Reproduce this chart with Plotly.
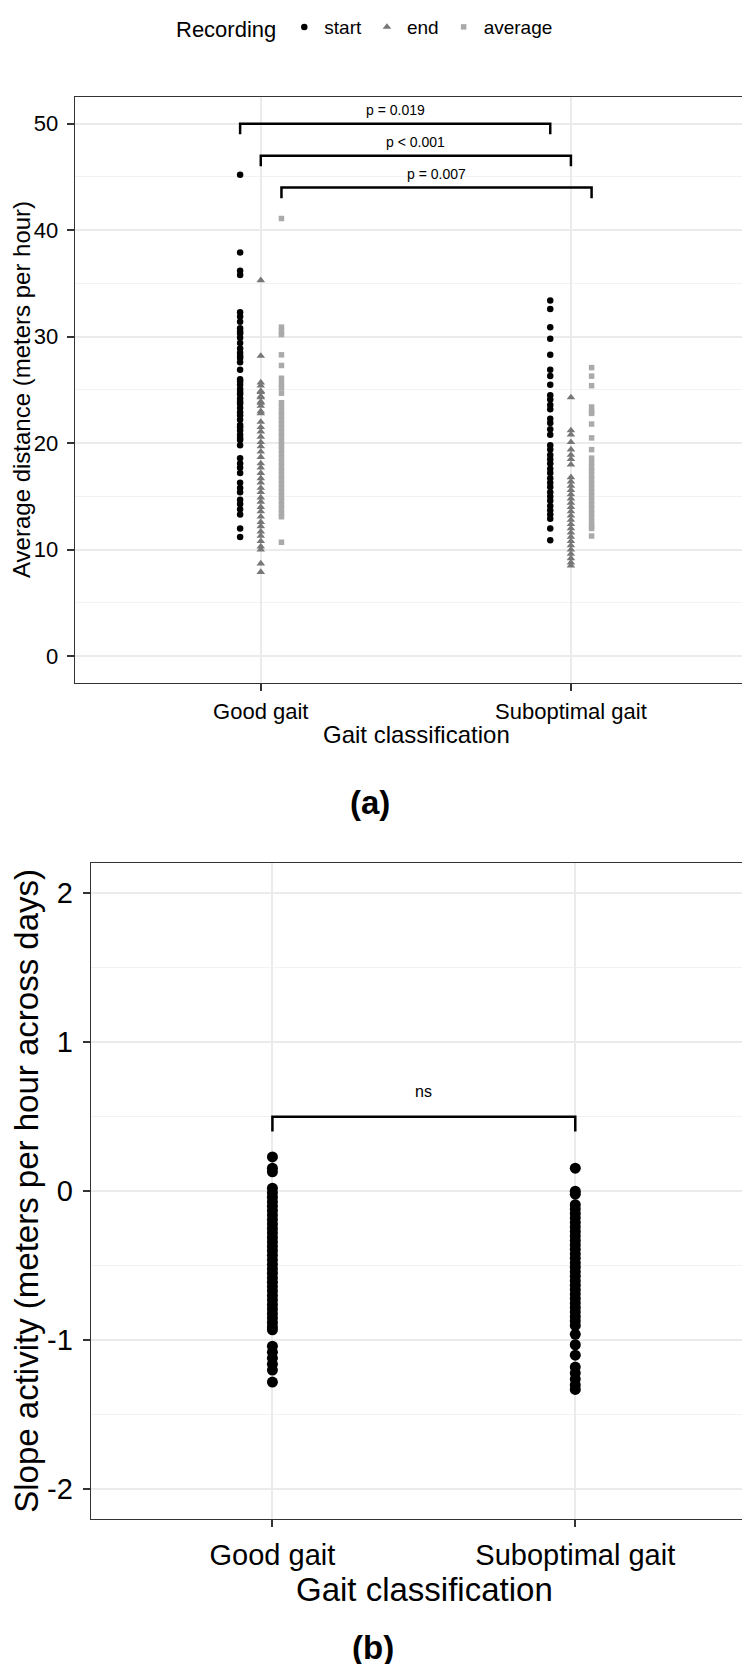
import plotly.graph_objects as go

# ---------------- data ----------------
categories = ["Good gait", "Suboptimal gait"]
recordings = ["start", "end", "average"]

good_start = [45.2, 37.9, 36.2, 35.8, 32.3, 31.9, 31.4, 30.8, 30.5, 30.3, 29.9, 29.4, 28.9,
              28.5, 28.2, 28.0, 27.6, 26.9, 26.0, 25.8, 25.5, 25.1, 24.8, 24.6, 24.2, 23.9,
              23.7, 23.3, 22.9, 22.6, 22.2, 21.7, 21.5, 21.2, 20.8, 20.5, 20.3, 19.8, 18.6,
              18.1, 17.7, 17.2, 16.3, 15.8, 15.4, 14.7, 14.3, 13.8, 13.3, 12.0, 11.2]
good_end = [35.3, 28.2, 25.7, 25.4, 24.9, 24.8, 24.4, 24.3, 23.9, 23.8, 23.5, 23.0, 22.8,
            22.0, 21.5, 21.1, 20.6, 20.1, 19.7, 19.2, 18.7, 18.1, 17.7, 17.2, 16.7, 16.3,
            15.8, 15.4, 14.9, 14.5, 14.0, 13.6, 13.1, 12.6, 12.2, 11.7, 11.3, 10.8, 10.3,
            10.0, 8.7, 7.9]
good_avg = [41.1, 30.9, 30.5, 30.2, 28.3, 27.3, 26.1, 25.6, 25.2, 24.7, 23.8, 23.4, 23.0,
            22.6, 22.2, 21.8, 21.4, 21.0, 20.6, 20.2, 19.8, 19.4, 19.0, 18.6, 18.2, 17.8,
            17.4, 17.0, 16.6, 16.2, 15.8, 15.4, 15.0, 14.6, 14.2, 13.8, 13.4, 13.1, 10.7]

sub_start = [33.4, 32.6, 30.9, 29.8, 28.3, 26.9, 26.3, 25.5, 24.5, 24.1, 23.6, 23.2, 22.3,
             21.9, 21.3, 20.8, 19.8, 19.4, 18.9, 18.5, 18.1, 17.6, 17.2, 16.7, 16.3, 15.9,
             15.4, 15.0, 14.6, 14.1, 13.7, 13.3, 12.9, 12.0, 10.9]
sub_end = [24.3, 21.2, 20.8, 20.1, 19.4, 18.9, 18.5, 18.0, 16.8, 16.4, 16.0, 15.6, 15.2,
           14.8, 14.4, 14.0, 13.6, 13.2, 12.8, 12.4, 12.0, 11.6, 11.2, 10.8, 10.4, 10.0,
           9.6, 9.2, 8.8, 8.5]
sub_avg = [27.1, 26.3, 25.4, 23.4, 23.0, 22.8, 21.8, 20.5, 19.4, 18.6, 18.2, 17.8, 17.4,
           17.0, 16.6, 16.2, 15.8, 15.4, 15.0, 14.6, 14.2, 13.8, 13.4, 13.0, 12.6, 12.2,
           12.0, 11.3]

slope_good = [0.23, 0.155, 0.13, 0.02, -0.01, -0.04, -0.07, -0.10, -0.13, -0.16, -0.19,
              -0.22, -0.25, -0.28, -0.31, -0.34, -0.37, -0.40, -0.43, -0.46, -0.49, -0.52,
              -0.55, -0.58, -0.61, -0.64, -0.67, -0.70, -0.73, -0.76, -0.79, -0.82, -0.85,
              -0.88, -0.91, -0.93, -1.04, -1.08, -1.12, -1.16, -1.20, -1.28]
slope_sub = [0.155, 0.00, -0.02, -0.09, -0.12, -0.15, -0.18, -0.21, -0.24, -0.27, -0.30,
             -0.33, -0.36, -0.39, -0.42, -0.45, -0.48, -0.51, -0.54, -0.57, -0.60, -0.63,
             -0.66, -0.69, -0.72, -0.75, -0.78, -0.81, -0.84, -0.87, -0.90, -0.96, -1.03,
             -1.10, -1.18, -1.22, -1.26, -1.30, -1.33]

# significance brackets (panel a): (left group, left recording, right group, right recording, y, label)
brackets_a = [
    (0, "start", 1, "start", 50.0, "p = 0.019"),
    (0, "end", 1, "end", 47.0, "p < 0.001"),
    (0, "average", 1, "average", 44.0, "p = 0.007"),
]
brackets_b = [(0, 1, 0.5, "ns")]

# ---------------- styling ----------------
FONT = "Liberation Sans"
rec_style = {
    "start": dict(symbol="circle", color="#000000", size=6.5),
    "end": dict(symbol="triangle-up", color="#777777", size=7.5),
    "average": dict(symbol="square", color="#aaaaaa", size=5.5),
}
dodge = {"start": -0.2 / 3, "end": 0.0, "average": 0.2 / 3}
tip_a = 1.0
tip_b = 0.1

values_a = {
    ("start", 0): good_start, ("end", 0): good_end, ("average", 0): good_avg,
    ("start", 1): sub_start, ("end", 1): sub_end, ("average", 1): sub_avg,
}

fig = go.Figure()

for rec in recordings:
    xs, ys = [], []
    for gi, _ in enumerate(categories):
        vals = values_a[(rec, gi)]
        xs += [gi + 1 + dodge[rec]] * len(vals)
        ys += vals
    st = rec_style[rec]
    fig.add_trace(go.Scatter(
        x=xs, y=ys, mode="markers", name=rec, xaxis="x", yaxis="y",
        marker=dict(symbol=st["symbol"], color=st["color"], size=st["size"], line=dict(width=0)),
        showlegend=True,
    ))

for (g1, r1, g2, r2, yv, lab) in brackets_a:
    x1 = g1 + 1 + dodge[r1]
    x2 = g2 + 1 + dodge[r2]
    fig.add_trace(go.Scatter(
        x=[x1, x1, x2, x2], y=[yv - tip_a, yv, yv, yv - tip_a], mode="lines",
        line=dict(color="black", width=2.5), xaxis="x", yaxis="y", showlegend=False,
        hoverinfo="skip"))
    fig.add_annotation(x=(x1 + x2) / 2, y=yv + 1.3, xref="x", yref="y", text=lab,
                       showarrow=False, font=dict(family=FONT, size=14, color="black"),
                       yanchor="middle")

# panel b
xs_b = [1] * len(slope_good) + [2] * len(slope_sub)
fig.add_trace(go.Scatter(
    x=xs_b, y=slope_good + slope_sub, mode="markers", xaxis="x2", yaxis="y2",
    marker=dict(symbol="circle", color="black", size=11, line=dict(width=0)),
    showlegend=False))
for (g1, g2, yv, lab) in brackets_b:
    fig.add_trace(go.Scatter(
        x=[g1 + 1, g1 + 1, g2 + 1, g2 + 1], y=[yv - tip_b, yv, yv, yv - tip_b], mode="lines",
        line=dict(color="black", width=2.5), xaxis="x2", yaxis="y2", showlegend=False,
        hoverinfo="skip"))
    fig.add_annotation(x=(g1 + g2) / 2 + 1, y=yv + 0.17, xref="x2", yref="y2", text=lab,
                       showarrow=False, font=dict(family=FONT, size=16, color="black"),
                       yanchor="middle")

W, H = 750, 1664
def fx(px):
    return px / W
def fy(py):
    return 1 - py / H

grid_major = "#ebebeb"
axis_common = dict(showline=True, mirror=True, linecolor="#333333", linewidth=1.2,
                   ticks="outside", tickcolor="#333333", tickwidth=1.5, ticklen=7,
                   zeroline=False, automargin=False, gridcolor=grid_major, gridwidth=1.6)

fig.update_layout(
    width=W, height=H,
    margin=dict(l=0, r=0, t=0, b=0),
    paper_bgcolor="white", plot_bgcolor="white",
    font=dict(family=FONT, color="black"),
    showlegend=True,
    xaxis=dict(domain=[fx(66.7), fx(749)], anchor="y", range=[0.4, 2.6],
               tickvals=[1, 2], ticktext=categories,
               tickfont=dict(family=FONT, size=22, color="black"), ticklabelstandoff=2,
               **axis_common),
    yaxis=dict(domain=[fy(661), fy(67)], anchor="x", range=[-2.5, 52.5],
               tickvals=[0, 10, 20, 30, 40, 50],
               tickfont=dict(family=FONT, size=22, color="black"), ticklabelstandoff=4,
               minor=dict(tickvals=[5, 15, 25, 35, 45], showgrid=True, gridcolor="#f2f2f2",
                          gridwidth=1, ticks=""),
               **axis_common),
    xaxis2=dict(domain=[fx(82.7), fx(749)], anchor="y2", range=[0.4, 2.6],
                tickvals=[1, 2], ticktext=categories,
                tickfont=dict(family=FONT, size=29, color="black"), ticklabelstandoff=3,
                **axis_common),
    yaxis2=dict(domain=[fy(1509), fy(844)], anchor="x2", range=[-2.2, 2.2],
                tickvals=[-2, -1, 0, 1, 2], ticktext=["-2", "-1", "0", "1", "2"],
                tickfont=dict(family=FONT, size=29, color="black"), ticklabelstandoff=4,
                minor=dict(tickvals=[-1.5, -0.5, 0.5, 1.5], showgrid=True, gridcolor="#f2f2f2",
                           gridwidth=1, ticks=""),
                **axis_common),
    legend=dict(orientation="h", x=fx(358), xanchor="center", y=1.014, yanchor="top",
                title=dict(text="Recording", side="left", font=dict(family=FONT, size=22)),
                font=dict(family=FONT, size=19, color="black"),
                bgcolor="rgba(0,0,0,0)", entrywidth=0,
                itemsizing="trace"),
)

annotations = [
    dict(text="Average distance (meters per hour)", x=fx(14), y=fy(364), textangle=-90,
         font=dict(family=FONT, size=24)),
    dict(text="Gait classification", x=fx(408), y=fy(713), font=dict(family=FONT, size=24)),
    dict(text="<b>(a)</b>", x=fx(362), y=fy(782), font=dict(family=FONT, size=33)),
    dict(text="Slope activity (meters per hour across days)", x=fx(19), y=fy(1176),
         textangle=-90, font=dict(family=FONT, size=33)),
    dict(text="Gait classification", x=fx(416), y=fy(1580), font=dict(family=FONT, size=33)),
    dict(text="<b>(b)</b>", x=fx(365), y=fy(1639), font=dict(family=FONT, size=33)),
]
for a in annotations:
    fig.add_annotation(xref="paper", yref="paper", showarrow=False, xanchor="center",
                       yanchor="middle", **a)

fig.write_html("out.html")
